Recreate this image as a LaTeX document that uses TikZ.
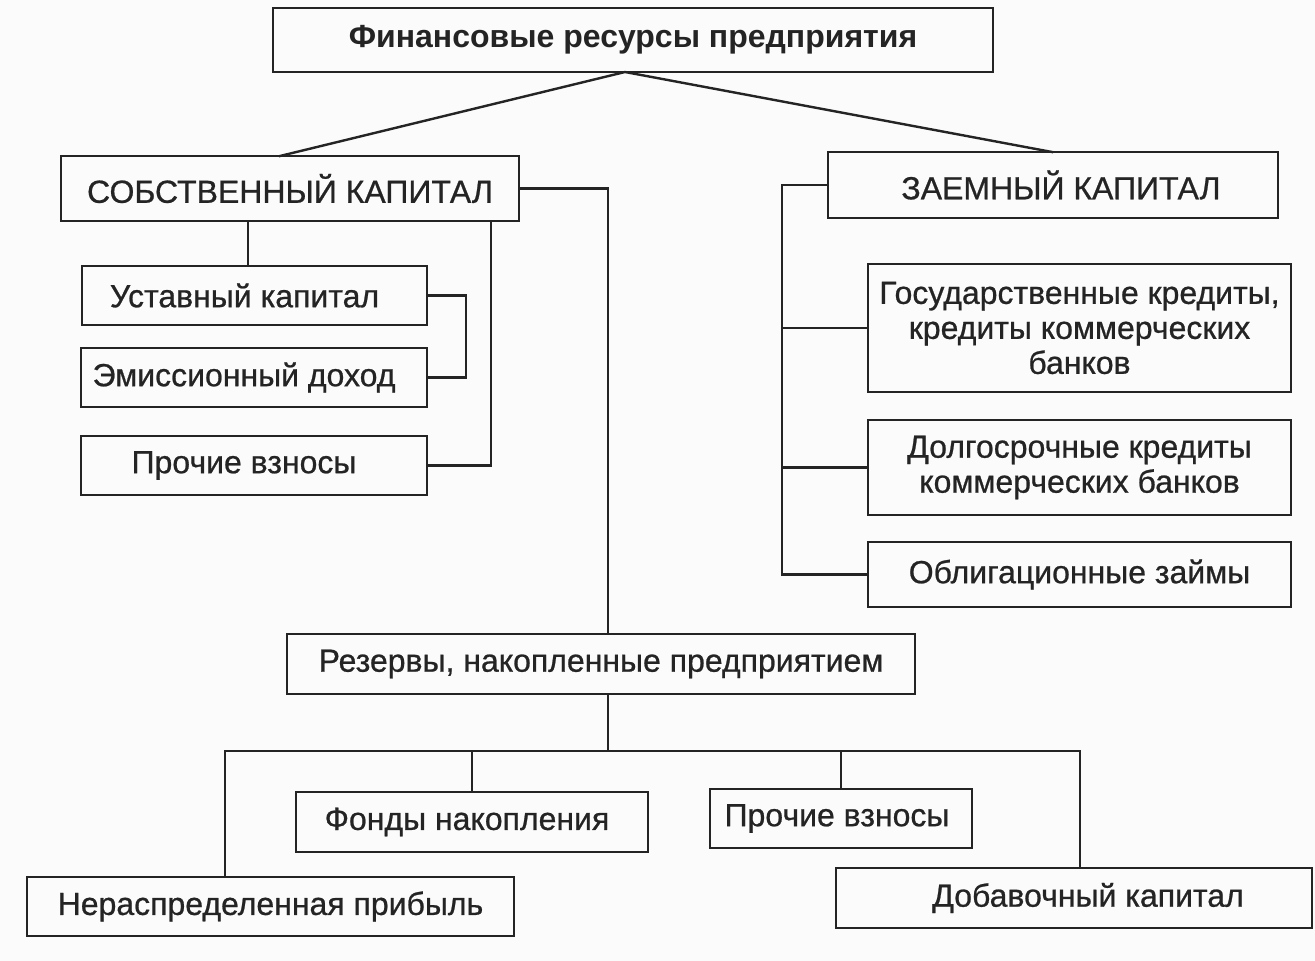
\documentclass[tikz,border=0pt]{standalone}
\usepackage{fontspec}
\setmainfont{Liberation Sans}
\newfontfamily\heavyfont[FakeBold=0.7]{Liberation Sans}
\definecolor{ink}{HTML}{242424}
\definecolor{paper}{HTML}{FBFBFB}
\begin{document}
\begin{tikzpicture}[x=1pt,y=-1pt,
  box/.style={draw=ink, line width=2.6pt, inner sep=0pt, outer sep=0pt, text=ink,
    font=\heavyfont\fontsize{32}{35}\selectfont, align=center},
  conn/.style={draw=ink, line width=2.4pt, line cap=rect}]
\fill[paper] (0,0) rectangle (1315,961);
\useasboundingbox (0,0) rectangle (1315,961);

% nodes
\node[box, minimum width=720pt, minimum height=64pt, font=\fontsize{32}{36}\selectfont\bfseries] (top) at (633,40) {Финансовые ресурсы предприятия};
\node[box, minimum width=458pt, minimum height=65pt] (sob) at (290,188.5) {СОБСТВЕННЫЙ КАПИТАЛ};
\node[box, minimum width=450pt, minimum height=66pt] (zaem) at (1053,185) {\hspace*{16pt}ЗАЕМНЫЙ КАПИТАЛ};
\node[box, minimum width=345pt, minimum height=59pt] (ust) at (254.5,295.5) {Уставный капитал\hspace*{20pt}};
\node[box, minimum width=346pt, minimum height=59pt] (emis) at (254,377.5) {Эмиссионный доход\hspace*{20pt}};
\node[box, minimum width=346pt, minimum height=59pt] (proch1) at (254,465.5) {Прочие взносы\hspace*{20pt}};
\node[box, minimum width=423pt, minimum height=128pt] (gos) at (1079.5,328) {Государственные кредиты,\\кредиты коммерческих\\банков};
\node[box, minimum width=423pt, minimum height=95pt] (dolg) at (1079.5,467.5) {Долгосрочные кредиты\\коммерческих банков};
\node[box, minimum width=423pt, minimum height=65pt] (oblig) at (1079.5,574.5) {Облигационные займы};
\node[box, minimum width=628pt, minimum height=60pt] (rez) at (601,664) {Резервы, накопленные предприятием};
\node[box, minimum width=352pt, minimum height=60pt] (fond) at (472,822) {Фонды накопления\hspace*{10pt}};
\node[box, minimum width=262pt, minimum height=59pt] (proch2) at (841,818.5) {Прочие взносы\hspace*{8pt}};
\node[box, minimum width=487pt, minimum height=59pt] (nerasp) at (270.5,906.5) {Нераспределенная прибыль};
\node[box, minimum width=476pt, minimum height=60pt] (dob) at (1074,898) {\hspace*{28pt}Добавочный капитал};

% helper coordinates
\coordinate (apex) at (625,72);
\coordinate (sobtop) at (280,156);
\coordinate (zaemtop) at (1052,152);
\coordinate (xs) at (608,0);
\coordinate (xu) at (248,0);
\coordinate (xb) at (466,0);
\coordinate (xp) at (491,0);
\coordinate (xr) at (782,0);
\coordinate (bl) at (225,751);
\coordinate (br) at (1080,751);

% connectors
\draw[conn] (sobtop) -- (apex) -- (zaemtop);
\draw[conn] (sob.east) -- (sob.east -| xs) -- (xs |- rez.north);
\draw[conn] (sob.south -| xu) -- (ust.north -| xu);
\draw[conn] (ust.east) -- (ust.east -| xb) -- (emis.east -| xb) -- (emis.east);
\draw[conn] (sob.south -| xp) -- (proch1.east -| xp) -- (proch1.east);
\draw[conn] (zaem.west) -- (zaem.west -| xr) -- (oblig.west -| xr) -- (oblig.west);
\draw[conn] (gos.west -| xr) -- (gos.west);
\draw[conn] (dolg.west -| xr) -- (dolg.west);
\draw[conn] (rez.south -| xs) -- (xs |- bl);
\draw[conn] (bl) -- (br);
\draw[conn] (bl) -- (bl |- nerasp.north);
\draw[conn] (br) -- (br |- dob.north);
\draw[conn] (fond.north |- bl) -- (fond.north);
\draw[conn] (proch2.north |- bl) -- (proch2.north);
\end{tikzpicture}
\end{document}
